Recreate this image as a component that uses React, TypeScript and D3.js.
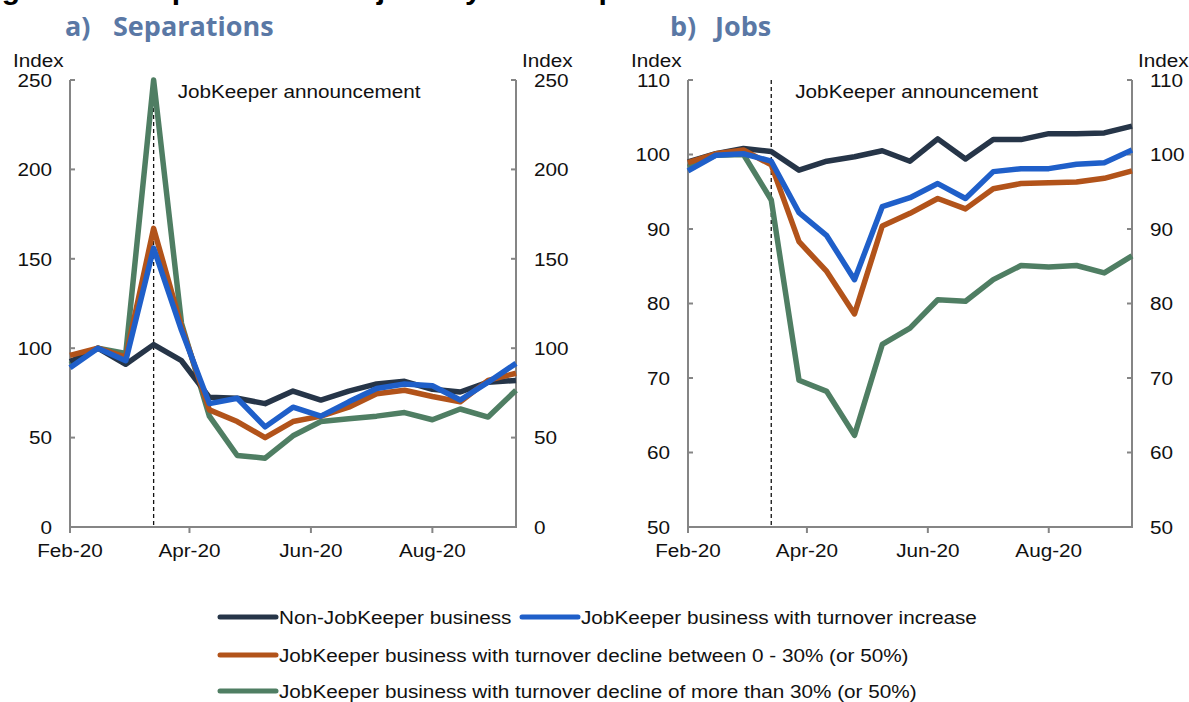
import React from 'react';
import * as d3 from 'd3';

// ---- data ----
const periods = [
  '2020-02-01', '2020-02-15', '2020-02-29', '2020-03-14', '2020-03-28', '2020-04-11',
  '2020-04-25', '2020-05-09', '2020-05-23', '2020-06-06', '2020-06-20', '2020-07-04',
  '2020-07-18', '2020-08-01', '2020-08-15', '2020-08-29', '2020-09-12',
];
const xTickDates = ['2020-02-01', '2020-04-01', '2020-06-01', '2020-08-01'];
const announcementDate = '2020-03-14';

const seriesNames = [
  'Non-JobKeeper business',
  'JobKeeper business with turnover increase',
  'JobKeeper business with turnover decline between 0 - 30% (or 50%)',
  'JobKeeper business with turnover decline of more than 30% (or 50%)',
];
const seriesColors = ['#263548', '#1f5fc9', '#b2531a', '#4f7e63'];

// Separations
const sepNonJK = [92.5, 100, 91, 102, 93, 72.5, 72, 69, 76, 71, 76, 80, 81.5, 77, 75.5, 81, 82];
const sepIncrease = [89, 100, 93, 156, 110, 69, 72, 56, 67, 62, 70, 77.5, 80, 79, 71, 81, 91.5];
const sepDecline0to30 = [96, 100, 95, 167, 112, 65.5, 59, 50, 59, 62, 67, 74.5, 76.5, 73, 70, 82, 86];
const sepDecline30plus = [91, 100, 97, 250, 114, 62, 40, 38.5, 51, 59, 60.5, 62, 64, 60, 66, 61.5, 76.5];

// Jobs
const jobNonJK = [99, 100.1, 100.8, 100.4, 97.9, 99.1, 99.7, 100.5, 99.1, 102.1, 99.4, 102, 102, 102.8, 102.8, 102.9, 103.8];
const jobIncrease = [97.8, 99.9, 100.1, 99.1, 92.2, 89.1, 83.2, 93, 94.2, 96.1, 94.1, 97.7, 98.1, 98.1, 98.7, 98.9, 100.6];
const jobDecline0to30 = [98.9, 100.1, 100.6, 98.6, 88.3, 84.3, 78.6, 90.4, 92.1, 94.1, 92.7, 95.4, 96.1, 96.2, 96.3, 96.8, 97.8];
const jobDecline30plus = [98.3, 99.9, 100, 93.9, 69.7, 68.2, 62.3, 74.5, 76.7, 80.5, 80.3, 83.2, 85.1, 84.9, 85.1, 84.1, 86.4];

const sepTicks = [0, 50, 100, 150, 200, 250];
const jobTicks = [50, 60, 70, 80, 90, 100, 110];

// drawing order: green, dark, orange, blue
const drawOrder = [3, 0, 2, 1];

const parse = d3.timeParse('%Y-%m-%d');
const fmt = d3.timeFormat('%b-%y');
const FONT = '"Liberation Sans", Arial, sans-serif';
const AXIS = '#858585';

type TProps = {
  x: number; y: number; anchor?: string; size?: number; sx?: number;
  weight?: string | number; fill?: string; family?: string; children: React.ReactNode;
};
const T = ({ x, y, anchor = 'start', size = 18.5, sx = 1.12, weight = 'normal', fill = '#111', family = FONT, children }: TProps) => (
  <text transform={`translate(${x},${y}) scale(${sx},1)`} textAnchor={anchor as any}
    fontSize={size} fontWeight={weight} fill={fill} fontFamily={family}>{children}</text>
);

type PanelProps = {
  x0: number; x1: number; yDomain: [number, number]; yTicks: number[];
  data: number[][]; letter: string; title: string; letterX: number; titleX: number;
};

const TOP = 80;
const BOTTOM = 527;

function Panel({ x0, x1, yDomain, yTicks, data, letter, title, letterX, titleX }: PanelProps) {
  const dates = periods.map((p) => parse(p) as Date);
  const x = d3.scaleTime().domain([dates[0], dates[dates.length - 1]]).range([x0, x1]);
  const y = d3.scaleLinear().domain(yDomain).range([BOTTOM, TOP]);
  const line = d3.line<number>().x((_, i) => x(dates[i])).y((v) => y(v));
  const ax = x(parse(announcementDate) as Date);
  return (
    <g>
      <text x={letterX} y={36} fontFamily='"Open Sans", sans-serif' fontWeight={700} fontSize={27} fill="#5a78a5">{letter}</text>
      <text x={titleX} y={36} fontFamily='"Open Sans", sans-serif' fontWeight={700} fontSize={27} fill="#5a78a5">{title}</text>

      {/* axes */}
      <line x1={x0} x2={x0} y1={TOP} y2={BOTTOM} stroke={AXIS} strokeWidth={2} />
      <line x1={x1} x2={x1} y1={TOP} y2={BOTTOM} stroke={AXIS} strokeWidth={2} />
      <line x1={x0 - 1} x2={x1 + 1} y1={BOTTOM} y2={BOTTOM} stroke={AXIS} strokeWidth={2} />
      {yTicks.map((t) => (
        <g key={t}>
          <line x1={x0} x2={x0 + 5} y1={y(t)} y2={y(t)} stroke={AXIS} strokeWidth={2} />
          <line x1={x1 - 5} x2={x1} y1={y(t)} y2={y(t)} stroke={AXIS} strokeWidth={2} />
          <T x={x0 - 18} y={y(t) + 6.7} anchor="end">{t}</T>
          <T x={x1 + 18} y={y(t) + 6.7}>{t}</T>
        </g>
      ))}
      {xTickDates.map((d) => {
        const dt = parse(d) as Date;
        return (
          <g key={d}>
            <line x1={x(dt)} x2={x(dt)} y1={BOTTOM} y2={BOTTOM + 6} stroke={AXIS} strokeWidth={2} />
            <T x={x(dt)} y={557} anchor="middle">{fmt(dt)}</T>
          </g>
        );
      })}
      <T x={x0 - 57} y={67}>Index</T>
      <T x={x1 + 6} y={67}>Index</T>

      {/* announcement */}
      <line x1={ax} x2={ax} y1={TOP} y2={BOTTOM} stroke="#111" strokeWidth={1.3} strokeDasharray="4,3" />
      <T x={ax + 24} y={98}>JobKeeper announcement</T>

      {/* series */}
      {drawOrder.map((k) => (
        <path key={k} d={line(data[k]) || ''} fill="none" stroke={seriesColors[k]}
          strokeWidth={5.5} strokeLinejoin="round" strokeLinecap="butt" />
      ))}
    </g>
  );
}

export default function App() {
  const sepData = [sepNonJK, sepIncrease, sepDecline0to30, sepDecline30plus];
  const jobData = [jobNonJK, jobIncrease, jobDecline0to30, jobDecline30plus];
  const legendItems = [
    { k: 0, lx: 220, ly: 617 },
    { k: 1, lx: 522, ly: 617 },
    { k: 2, lx: 220, ly: 655 },
    { k: 3, lx: 220, ly: 691 },
  ];
  return (
    <svg width={1189} height={702} style={{ position: 'absolute', left: 0, top: 0, background: '#fff' }}>
      <rect width={1189} height={702} fill="#fff" />
      <text x={-25} y={-1} fontFamily={FONT} fontWeight={700} fontSize={30} fill="#000">
        Figure 2.1: Separations and jobs by JobKeeper status
      </text>
      <Panel x0={70} x1={516} yDomain={[0, 250]} yTicks={sepTicks} data={sepData}
        letter="a)" title="Separations" letterX={65} titleX={113} />
      <Panel x0={688} x1={1132} yDomain={[50, 110]} yTicks={jobTicks} data={jobData}
        letter="b)" title="Jobs" letterX={670} titleX={715} />
      {legendItems.map(({ k, lx, ly }) => (
        <g key={k}>
          <line x1={lx} x2={lx + 56} y1={ly} y2={ly} stroke={seriesColors[k]} strokeWidth={5} strokeLinecap="round" />
          <T x={lx + 59} y={ly + 7}>{seriesNames[k]}</T>
        </g>
      ))}
    </svg>
  );
}
